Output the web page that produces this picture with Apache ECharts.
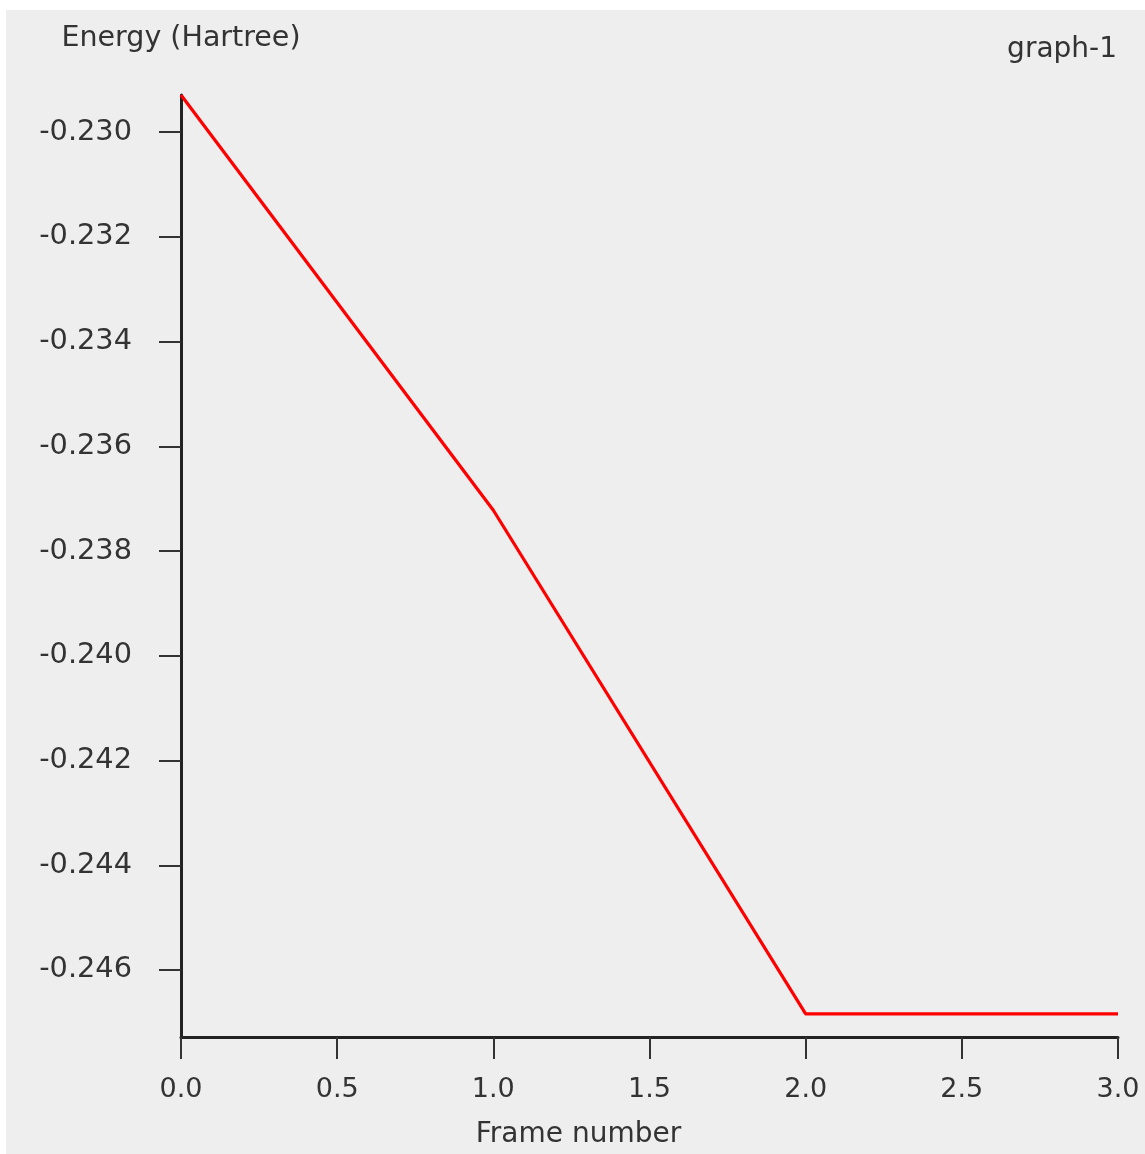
<!DOCTYPE html>
<html>
<head>
<meta charset="utf-8">
<script src="https://cdn.jsdelivr.net/npm/echarts@6/dist/echarts.min.js"></script>
<style>
html, body { margin: 0; padding: 0; background: #ffffff; }
#chart { position: absolute; left: 6px; top: 10px; width: 1139px; height: 1144px; background: #eeeeee; }
</style>
</head>
<body>
<div id="chart"></div>
<script>
const frames = [0, 1, 2, 3];
const energy = [-0.22929, -0.23722, -0.24684, -0.24684];
const yTicks = [-0.246, -0.244, -0.242, -0.240, -0.238, -0.236, -0.234, -0.232, -0.230];
const yRange = [-0.24728, -0.22929];
const xRange = [0, 3];
const xInterval = 0.5;
const yName = 'Energy (Hartree)';
const xName = 'Frame number';
const seriesName = 'graph-1';

const FONT = 'DejaVu Sans';
const TXT = '#333333';
const chart = echarts.init(document.getElementById('chart'), null, { renderer: 'canvas' });
chart.setOption({
  backgroundColor: '#eeeeee',
  animation: false,
  title: {
    text: seriesName,
    right: 23, top: 21,
    textStyle: { fontFamily: FONT, fontSize: 28, fontWeight: 'normal', color: TXT }
  },
  grid: { left: 175, right: 27, top: 85, bottom: 117, containLabel: false },
  xAxis: {
    type: 'value', min: xRange[0], max: xRange[1], interval: xInterval,
    name: xName, nameLocation: 'middle', nameGap: 84,
    nameTextStyle: { fontFamily: FONT, fontSize: 28, color: TXT, padding: [0, 142, 0, 0] },
    axisLine: { show: true, onZero: false, lineStyle: { color: '#222222', width: 3 } },
    axisTick: { show: true, length: 22, lineStyle: { color: '#333333', width: 2 } },
    axisLabel: { margin: 39, fontFamily: FONT, fontSize: 27, color: TXT, formatter: v => v.toFixed(1) },
    splitLine: { show: false }
  },
  yAxis: {
    type: 'value', min: yRange[0], max: yRange[1],
    name: yName, nameLocation: 'end', nameGap: 42,
    nameTextStyle: { fontFamily: FONT, fontSize: 28.5, color: TXT },
    axisLine: { show: true, onZero: false, lineStyle: { color: '#222222', width: 3 } },
    axisTick: { show: true, length: 22, customValues: yTicks, lineStyle: { color: '#333333', width: 2 } },
    axisLabel: { margin: 49, fontFamily: FONT, fontSize: 28.8, color: TXT, customValues: yTicks, formatter: v => v.toFixed(3) },
    splitLine: { show: false }
  },
  series: [{
    name: seriesName, type: 'line',
    data: frames.map((f, i) => [f, energy[i]]),
    showSymbol: false, symbol: 'none',
    lineStyle: { color: '#ff0000', width: 3.2 },
    itemStyle: { color: '#ff0000' }
  }]
});
</script>
</body>
</html>
